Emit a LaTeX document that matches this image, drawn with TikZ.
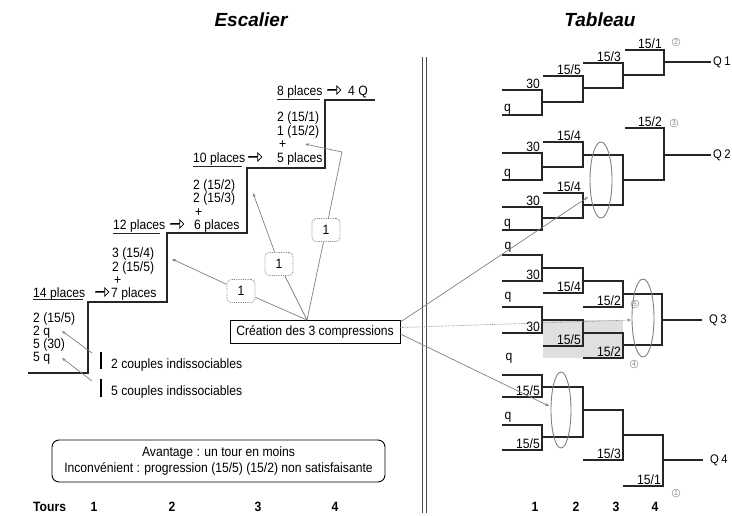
\documentclass[tikz,border=0pt]{standalone}
\usepackage{fontspec}
\setmainfont{Liberation Sans}[FakeStretch=0.9]
\newfontfamily\titlefont{Liberation Sans}
\usetikzlibrary{arrows.meta,shapes.arrows,shapes.geometric}
\begin{document}
\begin{tikzpicture}[x=1pt,y=-1pt,
 every node/.style={font=\fontsize{13.5}{15}\selectfont},
 txt/.style={anchor=base west, inner sep=0pt},
 lbl/.style={anchor=south east, inner sep=1pt},
 br/.style={line width=1.2pt, black!85},
 stair/.style={line width=1.4pt, black!85},
 uline/.style={line width=1pt, black!85},
 garrow/.style={draw=gray, line width=0.7pt, -{Stealth[length=4pt,width=3pt]}},
 conn/.style={draw=gray, line width=0.7pt},
 onebox/.style={draw=gray, densely dotted, line width=0.8pt, rounded corners=4pt, minimum width=28pt, minimum height=23pt, inner sep=0pt},
 rarrow/.style={single arrow, draw, line width=0.7pt, minimum height=13pt, minimum width=8pt, single arrow head extend=2pt, inner sep=0pt},
 cnum/.style={circle, draw=gray, text=gray, inner sep=0.7pt, font=\fontsize{7}{7}\selectfont},
 ell/.style={draw=gray, line width=0.9pt},
 ttl/.style={font=\titlefont\bfseries\itshape\fontsize{19}{21}\selectfont},
 num/.style={font=\bfseries\fontsize{13.5}{15}\selectfont},
 qout/.style={anchor=west, inner sep=0pt, font=\fontsize{12.5}{14}\selectfont}
]
\useasboundingbox (0,0) rectangle (732,515);

% titles
\node[ttl] (tEsc) at (251,20) {Escalier};
\node[ttl] (tTab) at (600,20) {Tableau};

% divider
\draw[black!70, line width=1pt] (422,57) -- (422,513);
\draw[black!70, line width=1pt] (426,57) -- (426,513);

% ===== staircase =====
\draw[stair] (28,373) -- (88,373) -- (88,302) -- (167,302) -- (167,233) -- (247,233) -- (247,168) -- (325,168) -- (325,100) -- (375,100);

\node[txt] (p8) at (277,95) {8 places};
\draw[uline] (277,99) -- (320,99);
\node[rarrow] (ar8) at (334,90) {};
\node[txt] (q4) at (348,95) {4 Q};
\node[txt] (s1) at (277,121) {2 (15/1)};
\node[txt] (s2) at (277,135) {1 (15/2)};
\node[txt] (s3) at (279,148) {+};
\node[txt] (s4) at (277,162) {5 places};

\node[txt] (p10) at (193,162) {10 places};
\draw[uline] (193,166) -- (242,166);
\node[rarrow] (ar10) at (255,157) {};
\node[txt] (t1) at (193,189) {2 (15/2)};
\node[txt] (t2) at (193,202) {2 (15/3)};
\node[txt] (t3) at (195,216) {+};
\node[txt] (t4) at (194,229) {6 places};

\node[txt] (p12) at (113,229) {12 places};
\draw[uline] (113,233) -- (160,233);
\node[rarrow] (ar12) at (177,224) {};
\node[txt] (u1) at (112,257) {3 (15/4)};
\node[txt] (u2) at (112,271) {2 (15/5)};
\node[txt] (u3) at (114,284) {+};
\node[txt] (u4) at (111,297) {7 places};

\node[txt] (p14) at (33,297) {14 places};
\draw[uline] (33,299) -- (83,299);
\node[rarrow] (ar14) at (102,292) {};
\node[txt] (v1) at (33,322) {2 (15/5)};
\node[txt] (v2) at (33,335) {2 q};
\node[txt] (v3) at (33,348) {5 (30)};
\node[txt] (v4) at (33,361) {5 q};

% couples
\draw[line width=1.2pt] (101,352) -- (101,369);
\draw[line width=1.2pt] (101,379) -- (101,397);
\node[txt] (c2) at (111,368) {2 couples indissociables};
\node[txt] (c5) at (111,395) {5 couples indissociables};
\coordinate (c2s) at (92,353);
\coordinate (c5s) at (92,381);
\coordinate (c2t) at (62,331);
\coordinate (c5t) at (62,358);
\draw[garrow] (c2s) -- (c2t);
\draw[garrow] (c5s) -- (c5t);

% creation box and connectors
\node[draw, line width=0.8pt, minimum width=170pt, minimum height=23pt, inner sep=0pt] (crea) at (315,331.5) {Création des 3 compressions};
\coordinate (cs) at (307,320);
\node[onebox] (b1) at (241,291) {1};
\node[onebox] (b2) at (279,264) {1};
\node[onebox] (b3) at (326,230) {1};
\coordinate (e1) at (172,259);
\coordinate (e2) at (253,193);
\coordinate (k3) at (342,152);
\coordinate (e3) at (305,144);
\draw[conn] (cs) -- (b1);
\draw[garrow] (b1) -- (e1);
\draw[conn] (cs) -- (b2);
\draw[garrow] (b2) -- (e2);
\draw[conn] (cs) -- (b3);
\draw[garrow] (b3) -- (k3) -- (e3);

% avantage box
\node[draw, line width=0.9pt, rounded corners=7pt, minimum width=333pt, minimum height=42pt, align=center, font=\fontsize{13.5}{16}\selectfont] (av) at (218.5,461) {Avantage : un tour en moins\\Inconvénient : progression (15/5) (15/2) non satisfaisante};

% tours
\node[num, anchor=west, inner sep=0pt] (tours) at (33,507) {Tours};
\node[num] (n1) at (94,507) {1};
\node[num] (n2) at (172,507) {2};
\node[num] (n3) at (258,507) {3};
\node[num] (n4) at (335,507) {4};
\node[num] (m1) at (535,507) {1};
\node[num] (m2) at (576,507) {2};
\node[num] (m3) at (616,507) {3};
\node[num] (m4) at (655,507) {4};

% ===== tableau =====
\fill[gray!25] (543,320) rectangle (623,358);

% Q1
\draw[br] (502,90) -| (542,115) -- (502,115)
          (542,102) -| (583,76) -- (543,76)
          (583,88) -| (623,63) -- (583,63)
          (623,75) -| (664,50) -- (625,50)
          (664,62) -- (711,62);
\node[lbl] (l1a) at (541,90) {30};
\node[anchor=south west, inner sep=1pt] (l1b) at (503,115) {q};
\node[lbl] (l1c) at (582,76) {15/5};
\node[lbl] (l1d) at (622,63) {15/3};
\node[lbl] (l1e) at (663,50) {15/1};
\node[qout] (Q1) at (713,62) {Q\kern2.5pt 1};
\node[cnum] (k2) at (676,42) {2};

% Q2
\draw[br] (502,153) -| (542,180) -- (502,180)
          (542,167) -| (583,142) -- (543,142)
          (502,207) -| (542,230) -- (502,230)
          (542,218) -| (583,193) -- (543,193)
          (583,155) -| (623,205) -- (583,205)
          (623,180) -| (664,128) -- (625,128)
          (664,155) -- (711,155);
\node[lbl] (l2a) at (663,128) {15/2};
\node[lbl] (l2b) at (582,142) {15/4};
\node[lbl] (l2c) at (541,153) {30};
\node[anchor=south west, inner sep=1pt] (l2d) at (503,180) {q};
\node[lbl] (l2e) at (582,193) {15/4};
\node[lbl] (l2f) at (541,207) {30};
\node[anchor=south west, inner sep=1pt] (l2g) at (503,230) {q};
\node[qout] (Q2) at (713,155) {Q\kern2.5pt 2};
\node[cnum] (k3n) at (674,123) {3};
\draw[ell] (601,180) ellipse [x radius=11, y radius=38];

% Q3
\draw[br] (502,255) -| (542,281) -- (502,281)
          (542,268) -| (583,293) -- (543,293)
          (583,281) -| (623,307) -- (583,307)
          (502,307) -| (542,333) -- (502,333)
          (542,320) -| (583,346) -- (543,346)
          (583,333) -| (623,358) -- (583,358)
          (623,294) -| (662,345) -- (623,345)
          (662,320) -- (702,320);
\node (l3q1) at (508,247) {q};
\node[lbl] (l3a) at (541,281) {30};
\node[lbl] (l3b) at (582,293) {15/4};
\node[lbl] (l3c) at (622,307) {15/2};
\node (l3q2) at (508,297) {q};
\node[lbl] (l3d) at (541,333) {30};
\node[lbl] (l3e) at (582,346) {15/5};
\node[lbl] (l3f) at (622,358) {15/2};
\node[qout] (Q3) at (709,320) {Q\kern2.5pt 3};
\node[cnum] (k5) at (635,304) {5};
\node[cnum] (k4) at (634,364) {4};
\draw[ell] (643,318) ellipse [x radius=11, y radius=39];

% Q4
\draw[br] (502,375) -| (542,397) -- (502,397)
          (502,425) -| (542,450) -- (502,450)
          (542,387) -| (583,437) -- (542,437)
          (583,410) -| (623,460) -- (583,460)
          (623,435) -| (663,486) -- (623,486)
          (663,460) -- (703,460);
\node (l4q1) at (509,358) {q};
\node[lbl] (l4a) at (541,397) {15/5};
\node (l4q2) at (508,417) {q};
\node[lbl] (l4b) at (541,450) {15/5};
\node[lbl] (l4c) at (622,460) {15/3};
\node[lbl] (l4d) at (662,486) {15/1};
\node[qout] (Q4) at (710,460) {Q\kern2.5pt 4};
\node[cnum] (k1) at (676,493) {1};
\draw[ell] (561,410) ellipse [x radius=10, y radius=38];

% right connectors
\coordinate (r1) at (crea.east |- 0,322);
\coordinate (r2) at (crea.east |- 0,327.5);
\coordinate (r3) at (crea.east |- 0,334);
\coordinate (g1) at (588,197);
\coordinate (g2) at (631,320);
\coordinate (g3) at (549,406);
\draw[garrow] (r1) -- (g1);
\draw[garrow, densely dotted] (r2) -- (g2);
\draw[garrow] (r3) -- (g3);
\end{tikzpicture}
\end{document}
